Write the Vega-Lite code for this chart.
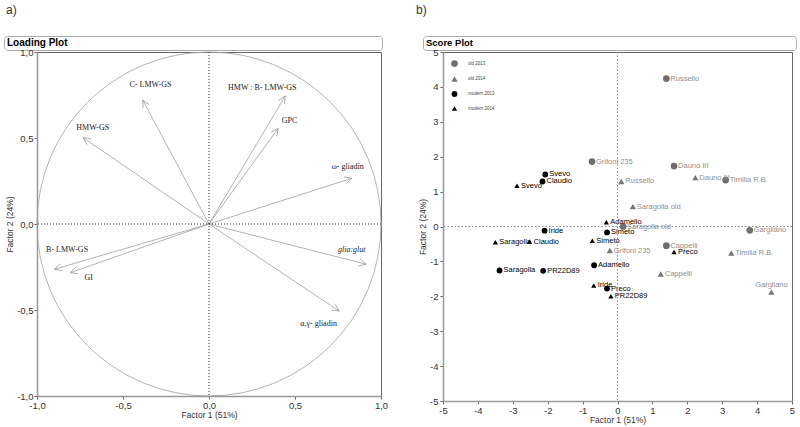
{
  "$schema": "https://vega.github.io/schema/vega-lite/v6.json",
  "padding": {"left": 3, "top": 3, "right": 2, "bottom": 2},
  "config": {
    "font": "Liberation Sans",
    "view": {"stroke": "#666666"},
    "axis": {"grid": false, "labelFlush": false, "labelOverlap": false, "domainColor": "#999999", "domainWidth": 1.5, "tickColor": "#666666", "tickSize": 3, "labelColor": "#333333", "labelFontSize": 9.5, "titleColor": "#333333", "titleFontSize": 8.5, "titleFontWeight": "normal", "labelPadding": 2, "titlePadding": 3},
    "axisX": {"labelPadding": 1, "titlePadding": 1},
    "title": {"fontSize": 12, "fontWeight": "normal", "color": "#333333", "anchor": "start", "offset": 19}
  },
  "spacing": -5,
  "resolve": {"scale": {"color": "independent", "shape": "independent", "size": "independent"}, "legend": {"color": "independent", "shape": "independent", "size": "independent"}},
  "vconcat": [
    {
      "spacing": 32,
      "hconcat": [
        {
          "title": {"text": "a)", "dx": 2},
          "width": 378, "height": 14,
          "view": {"stroke": "#aaaaaa", "cornerRadius": 3},
          "data": {"values": [{"t": "Loading Plot", "p": 0}]},
          "mark": {"type": "text", "align": "left", "baseline": "middle", "dx": 3, "fontWeight": "bold", "fontSize": 10, "color": "#000000"},
          "encoding": {
            "x": {"field": "p", "type": "quantitative", "scale": {"domain": [0, 1]}, "axis": null},
            "text": {"field": "t", "type": "nominal"}
          }
        },
        {
          "title": {"text": "b)", "dx": -7},
          "width": 373, "height": 14,
          "view": {"stroke": "#aaaaaa", "cornerRadius": 3},
          "data": {"values": [{"t": "Score Plot", "p": 0}]},
          "mark": {"type": "text", "align": "left", "baseline": "middle", "dx": 3, "fontWeight": "bold", "fontSize": 9.5, "color": "#000000"},
          "encoding": {
            "x": {"field": "p", "type": "quantitative", "scale": {"domain": [0, 1]}, "axis": null},
            "text": {"field": "t", "type": "nominal"}
          }
        }
      ]
    },
    {
      "spacing": 29,
      "resolve": {"scale": {"color": "independent", "shape": "independent", "size": "independent"}, "legend": {"color": "independent", "shape": "independent", "size": "independent"}},
      "hconcat": [
        {
          "spacing": 0,
          "hconcat": [
            {
              "width": 1, "height": 1,
              "view": {"stroke": null},
              "data": {"values": []},
              "mark": "point",
              "encoding": {}
            },
            {
              "width": 344, "height": 344,
              "data": {"values": [
                {"name": "C- LMW-GS", "x": -0.385, "y": 0.72, "lx": -0.34, "ly": 0.81},
                {"name": "HMW-GS", "x": -0.732, "y": 0.502, "lx": -0.676, "ly": 0.556},
                {"name": "HMW : B- LMW-GS", "x": 0.443, "y": 0.744, "lx": 0.31, "ly": 0.79},
                {"name": "GPC", "x": 0.402, "y": 0.556, "lx": 0.468, "ly": 0.597},
                {"name": "ω- gliadin", "x": 0.831, "y": 0.266, "lx": 0.806, "ly": 0.334},
                {"name": "B- LMW-GS", "x": -0.899, "y": -0.263, "lx": -0.825, "ly": -0.151},
                {"name": "GI", "x": -0.806, "y": -0.283, "lx": -0.70, "ly": -0.316},
                {"name": "glia:glut", "x": 0.913, "y": -0.234, "lx": 0.83, "ly": -0.151},
                {"name": "α,γ- gliadin", "x": 0.757, "y": -0.506, "lx": 0.637, "ly": -0.583}
              ]},
              "layer": [
                {
                  "transform": [{"calculate": "90 - atan2(datum.y, datum.x) * 180 / PI", "as": "ang"}],
                  "mark": {"type": "point", "shape": "M-0.5,1L0,0L0.5,1", "filled": false, "stroke": "#a0a0a0", "strokeWidth": 0.8, "size": 200, "opacity": 1},
                  "encoding": {
                    "x": {"field": "x", "type": "quantitative", "scale": {"domain": [-1, 1], "nice": false, "zero": false},
                          "axis": {"values": [-1, -0.5, 0, 0.5, 1], "labelOverlap": false, "labelExpr": "replace(replace(format(datum.value, '.1f'), '.', ','), '\u2212', '-')", "title": "Factor 1 (51%)"}},
                    "y": {"field": "y", "type": "quantitative", "scale": {"domain": [-1, 1], "nice": false, "zero": false},
                          "axis": {"values": [-1, -0.5, 0, 0.5, 1], "labelOverlap": false, "labelExpr": "replace(replace(format(datum.value, '.1f'), '.', ','), '\u2212', '-')", "title": "Factor 2 (24%)", "labelPadding": 1, "titlePadding": 2}},
                    "angle": {"field": "ang", "type": "quantitative", "scale": null}
                  }
                },
                {
                  "mark": {"type": "rule", "color": "#a0a0a0", "strokeWidth": 0.8},
                  "encoding": {
                    "x": {"field": "x", "type": "quantitative"},
                    "y": {"field": "y", "type": "quantitative"},
                    "x2": {"datum": 0},
                    "y2": {"datum": 0}
                  }
                },
                {
                  "transform": [{"filter": "datum.name !== 'glia:glut'"}],
                  "mark": {"type": "text", "font": "Liberation Serif", "fontSize": 8, "color": "#222222", "align": "center", "baseline": "middle"},
                  "encoding": {
                    "x": {"field": "lx", "type": "quantitative"},
                    "y": {"field": "ly", "type": "quantitative"},
                    "text": {"field": "name", "type": "nominal"}
                  }
                },
                {
                  "transform": [{"filter": "datum.name === 'glia:glut'"}],
                  "mark": {"type": "text", "font": "Liberation Serif", "fontSize": 8, "fontStyle": "italic", "color": "#222222", "align": "center", "baseline": "middle"},
                  "encoding": {
                    "x": {"field": "lx", "type": "quantitative"},
                    "y": {"field": "ly", "type": "quantitative"},
                    "text": {"field": "name", "type": "nominal"}
                  }
                },
                {
                  "data": {"values": [{"cx": 0, "cy": 0}]},
                  "mark": {"type": "point", "shape": "circle", "size": 118336, "filled": false, "stroke": "#a0a0a0", "strokeWidth": 0.8, "opacity": 1},
                  "encoding": {
                    "x": {"field": "cx", "type": "quantitative"},
                    "y": {"field": "cy", "type": "quantitative"}
                  }
                },
                {
                  "data": {"values": [{"c": 0}]},
                  "mark": {"type": "rule", "color": "#333333", "strokeDash": [1, 2], "strokeWidth": 1},
                  "encoding": {"x": {"field": "c", "type": "quantitative"}}
                },
                {
                  "data": {"values": [{"c": 0}]},
                  "mark": {"type": "rule", "color": "#333333", "strokeDash": [1, 2], "strokeWidth": 1},
                  "encoding": {"y": {"field": "c", "type": "quantitative"}}
                }
              ]
            }
          ]
        },
        {
          "width": 349, "height": 349,
          "data": {"values": [
            {"name": "Russello", "group": "old 2013", "x": 1.40, "y": 4.24},
            {"name": "Grifoni 235", "group": "old 2013", "x": -0.73, "y": 1.86},
            {"name": "Dauno III", "group": "old 2013", "x": 1.62, "y": 1.73},
            {"name": "Timilia R.B.", "group": "old 2013", "x": 3.10, "y": 1.33},
            {"name": "Saragolla old", "group": "old 2013", "x": 0.16, "y": 0.00},
            {"name": "Gargliano", "group": "old 2013", "x": 3.79, "y": -0.11},
            {"name": "Cappelli", "group": "old 2013", "x": 1.40, "y": -0.55},
            {"name": "Russello", "group": "old 2014", "x": 0.11, "y": 1.29},
            {"name": "Dauno III", "group": "old 2014", "x": 2.23, "y": 1.40},
            {"name": "Saragolla old", "group": "old 2014", "x": 0.44, "y": 0.57},
            {"name": "Grifoni 235", "group": "old 2014", "x": -0.22, "y": -0.69},
            {"name": "Timilia R.B.", "group": "old 2014", "x": 3.26, "y": -0.76},
            {"name": "Cappelli", "group": "old 2014", "x": 1.24, "y": -1.36},
            {"name": "Gargliano", "group": "old 2014", "x": 4.41, "y": -1.88},
            {"name": "Svevo", "group": "modern 2013", "x": -2.07, "y": 1.49},
            {"name": "Claudio", "group": "modern 2013", "x": -2.15, "y": 1.29},
            {"name": "Iride", "group": "modern 2013", "x": -2.09, "y": -0.12},
            {"name": "Simeto", "group": "modern 2013", "x": -0.30, "y": -0.17},
            {"name": "Adamello", "group": "modern 2013", "x": -0.67, "y": -1.11},
            {"name": "Saragolla", "group": "modern 2013", "x": -3.38, "y": -1.26},
            {"name": "PR22D89", "group": "modern 2013", "x": -2.13, "y": -1.27},
            {"name": "Preco", "group": "modern 2013", "x": -0.30, "y": -1.78},
            {"name": "Svevo", "group": "modern 2014", "x": -2.88, "y": 1.17},
            {"name": "Adamello", "group": "modern 2014", "x": -0.32, "y": 0.12},
            {"name": "Saragolla", "group": "modern 2014", "x": -3.50, "y": -0.45},
            {"name": "Claudio", "group": "modern 2014", "x": -2.52, "y": -0.43},
            {"name": "Simeto", "group": "modern 2014", "x": -0.72, "y": -0.41},
            {"name": "Preco", "group": "modern 2014", "x": 1.62, "y": -0.73},
            {"name": "Iride", "group": "modern 2014", "x": -0.68, "y": -1.69},
            {"name": "PR22D89", "group": "modern 2014", "x": -0.19, "y": -2.00}
          ]},
          "layer": [
            {
              "mark": {"type": "point", "filled": true, "opacity": 1},
              "encoding": {
                "x": {"field": "x", "type": "quantitative", "scale": {"domain": [-5, 5], "nice": false, "zero": false},
                      "axis": {"tickCount": 10, "tickMinStep": 1, "labelOverlap": false, "labelSeparation": 0, "labelExpr": "(datum.value < 0 ? '-' : '') + abs(datum.value)", "title": "Factor 1 (51%)"}},
                "y": {"field": "y", "type": "quantitative", "scale": {"domain": [-5, 5], "nice": false, "zero": false},
                      "axis": {"tickCount": 10, "tickMinStep": 1, "labelOverlap": false, "labelSeparation": 0, "labelExpr": "(datum.value < 0 ? '-' : '') + abs(datum.value)", "title": "Factor 2 (24%)", "titlePadding": 2}},
                "color": {"field": "group", "type": "nominal",
                          "scale": {"domain": ["old 2013", "old 2014", "modern 2013", "modern 2014"], "range": ["#6e6e6e", "#767676", "#000000", "#000000"]},
                          "legend": {"title": null, "orient": "top-left", "offset": 6, "padding": 2, "symbolSize": 40, "labelFontSize": 4.5, "labelColor": "#444444", "rowPadding": 8.5, "labelOffset": 10, "symbolStrokeWidth": 0,
                                     "encode": {"symbols": {"fill": {"condition": {"test": "indexof(datum.value, 'old') === 0", "value": "#c8c8c8"}, "value": "#000000"}}}}},
                "shape": {"field": "group", "type": "nominal",
                          "scale": {"domain": ["old 2013", "old 2014", "modern 2013", "modern 2014"], "range": ["circle", "triangle-up", "circle", "triangle-up"]}},
                "size": {"field": "group", "type": "ordinal",
                         "scale": {"domain": ["old 2013", "old 2014", "modern 2013", "modern 2014"], "range": [45, 28, 55, 35]}, "legend": null}
              }
            },
            {
              "transform": [{"filter": "!(datum.name === 'Gargliano' && datum.group === 'old 2014')"}],
              "mark": {"type": "text", "align": "left", "baseline": "middle", "dx": 4, "fontSize": 7.5},
              "encoding": {
                "x": {"field": "x", "type": "quantitative"},
                "y": {"field": "y", "type": "quantitative"},
                "text": {"field": "name", "type": "nominal"},
                "color": {"condition": {"test": "indexof(datum.group, 'old') === 0", "value": "#8f8f8f"}, "value": "#000000"}
              }
            },
            {
              "transform": [{"filter": "datum.name === 'Gargliano' && datum.group === 'old 2014'"}],
              "mark": {"type": "text", "align": "center", "baseline": "bottom", "dy": -3, "fontSize": 7.5, "color": "#8f8f8f"},
              "encoding": {
                "x": {"field": "x", "type": "quantitative"},
                "y": {"field": "y", "type": "quantitative"},
                "text": {"field": "name", "type": "nominal"}
              }
            },
            {
              "data": {"values": [{"c": 0}]},
              "mark": {"type": "rule", "color": "#888888", "strokeDash": [1.5, 2], "strokeWidth": 1},
              "encoding": {"x": {"field": "c", "type": "quantitative"}}
            },
            {
              "data": {"values": [{"c": 0}]},
              "mark": {"type": "rule", "color": "#888888", "strokeDash": [1.5, 2], "strokeWidth": 1},
              "encoding": {"y": {"field": "c", "type": "quantitative"}}
            }
          ]
        }
      ]
    }
  ]
}
